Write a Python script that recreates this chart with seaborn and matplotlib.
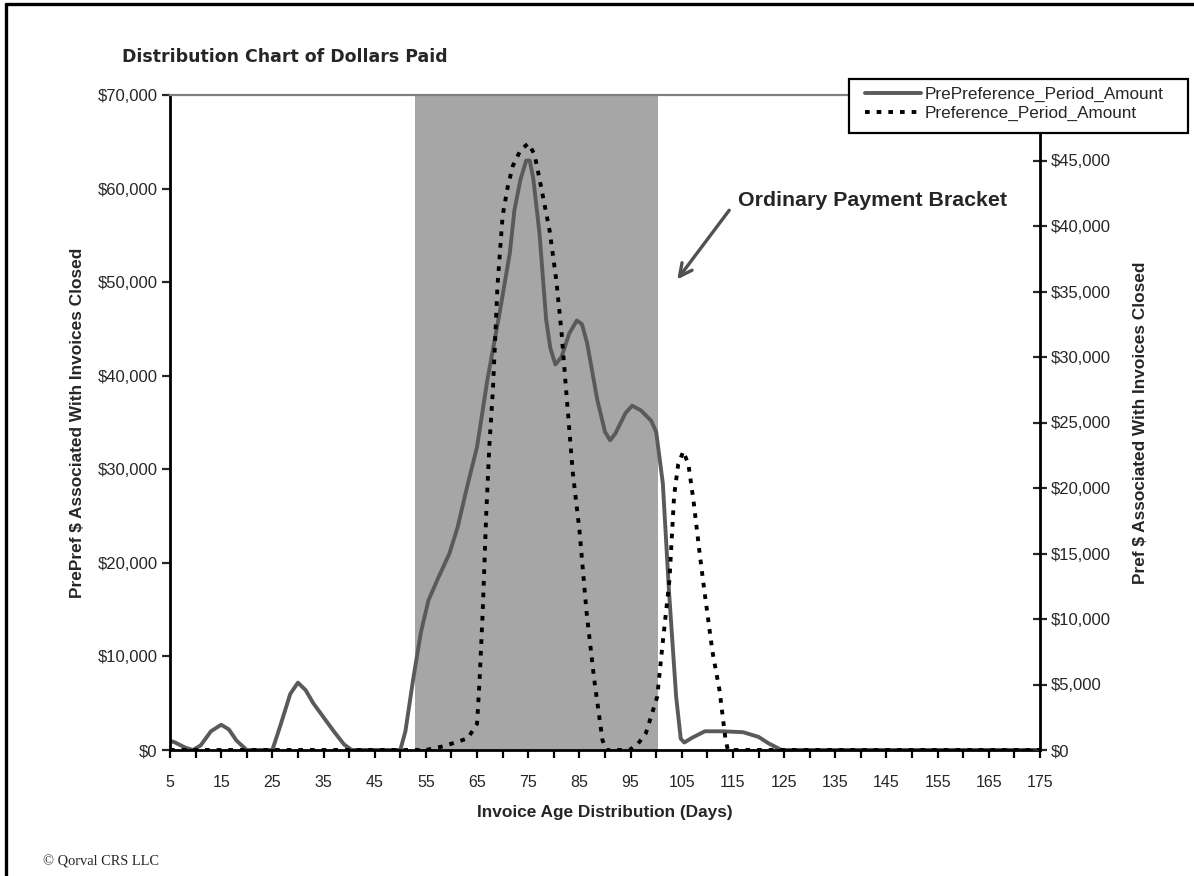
import matplotlib
matplotlib.use("Agg")
import matplotlib.pyplot as plt
from matplotlib.ticker import FuncFormatter, MultipleLocator, FixedLocator
from matplotlib.lines import Line2D
from matplotlib.patches import Rectangle
import seaborn as sns
import pandas as pd

# ---- data -------------------------------------------------------------
# Dollars paid before the preference period, by invoice age (days)
pre_days = [5, 6, 8, 9.5, 11, 13, 15, 16.5, 18, 20, 25, 26.5, 28.5, 30, 31.5,
            33, 35, 37, 39, 40.5, 45, 50, 51, 52.5, 54, 55.5, 57.5, 59.6, 61.2,
            63, 65, 67, 69.4, 71.4, 72.3, 73.5, 74.6, 75.3, 76, 77.2, 78.5,
            79.3, 80.3, 81.5, 83, 84.5, 85.5, 86.5, 88.5, 90, 91, 92, 94, 95.3,
            97, 99, 100, 101.3, 102.5, 103.9, 104.8, 105.5, 107, 109.5, 113,
            117, 120, 122, 124.5, 130, 140, 150, 160, 170, 175]
pre_amount = [1000, 800, 250, 0, 500, 2000, 2700, 2200, 1000, 0, 0, 2500, 6000,
              7200, 6400, 5000, 3500, 2000, 600, 0, 0, 0, 2000, 7500, 12500,
              16000, 18500, 21000, 23800, 28000, 32400, 39500, 46700, 53100,
              57700, 61000, 63000, 63000, 61000, 55200, 46000, 43000, 41200,
              42000, 44500, 45900, 45500, 43500, 37400, 34000, 33100, 33800,
              36000, 36800, 36300, 35200, 34000, 28500, 17000, 5700, 1200, 800,
              1300, 2000, 2000, 1900, 1400, 700, 0, 0, 0, 0, 0, 0, 0]

# Dollars paid during the preference period, by invoice age (days)
pref_days = [5, 20, 40, 55, 58, 61, 63.2, 65, 65.5, 66.1, 66.8, 67.4, 68.1, 69,
             70, 71, 72, 73.5, 75, 76.2, 77.2, 79.2, 80.5, 81.5, 82.4, 83.7, 85,
             86.4, 87.9, 89.5, 90.2, 94.8, 96.5, 98, 100.2, 101.2, 102.6, 103.5,
             104.3, 105.3, 106.3, 107.3, 108.5, 109.4, 111, 112.4, 113.5, 114,
             130, 150, 175]
pref_amount = [0, 0, 0, 0, 250, 600, 900, 2000, 5400, 10500, 18100, 23200,
               27500, 35500, 40800, 43000, 44600, 45800, 46300, 45500, 43600,
               39600, 35800, 31900, 27500, 21200, 16800, 10500, 5360, 770, 0, 0,
               500, 1300, 4060, 7900, 13000, 19400, 21800, 22800, 21800, 19000,
               15000, 12200, 7500, 4500, 950, 0, 0, 0, 0]

bracket = (52.8, 100.4)          # ordinary payment bracket (days)
x_ticks = list(range(5, 176, 10))
left_ticks = list(range(0, 70001, 10000))
right_ticks = list(range(0, 45001, 5000))

series_names = ["PrePreference_Period_Amount", "Preference_Period_Amount"]

pre_df = pd.DataFrame({"days": pre_days, "amount": pre_amount})
pref_df = pd.DataFrame({"days": pref_days, "amount": pref_amount})

# ---- style ------------------------------------------------------------
sns.set_style("white")
plt.rcParams["font.family"] = ["Liberation Sans", "DejaVu Sans"]

W, H = 1194, 876
fig = plt.figure(figsize=(W / 100, H / 100), dpi=100)
left, right, top, bottom = 170, 1040, 95, 750
ax = fig.add_axes([left / W, 1 - bottom / H, (right - left) / W, (bottom - top) / H])
ax2 = ax.twinx()

solid_color = "#5a5a5a"
line_w = 2.8
dots = (0, (1.2, 1.8))
ax.axvspan(*bracket, color="#a6a6a6", lw=0, zorder=0)

sns.lineplot(data=pre_df, x="days", y="amount", ax=ax, color=solid_color,
             lw=line_w, sort=False, legend=False)
sns.lineplot(data=pref_df, x="days", y="amount", ax=ax2, color="black",
             lw=line_w, sort=False, legend=False)
ax2.get_lines()[0].set_linestyle(dots)

money = FuncFormatter(lambda v, p: f"${v:,.0f}")

ax.set_xlim(5, 175)
ax.set_ylim(0, 70000)
ax2.set_ylim(0, 50000)
ax.set_xticks(x_ticks)
ax.xaxis.set_minor_locator(MultipleLocator(5))
ax.yaxis.set_major_locator(FixedLocator(left_ticks))
ax2.yaxis.set_major_locator(FixedLocator(right_ticks))
ax.yaxis.set_major_formatter(money)
ax2.yaxis.set_major_formatter(money)

ax.tick_params(axis="x", which="both", direction="out", length=6, width=1.6,
               labelsize=11.5, pad=12, color="black", bottom=True)
ax.tick_params(axis="y", direction="out", length=6, width=1.6, labelsize=12,
               pad=3, left=True)
ax2.tick_params(axis="y", direction="inout", length=10, width=1.6,
                labelsize=12, pad=3, right=True)

for s in ("left", "bottom"):
    ax.spines[s].set_color("black")
    ax.spines[s].set_linewidth(2)
ax.spines["right"].set_visible(False)
ax.spines["top"].set_color("#808080")
ax.spines["top"].set_linewidth(1.6)
for s in ("left", "bottom", "top"):
    ax2.spines[s].set_visible(False)
ax2.spines["right"].set_color("black")
ax2.spines["right"].set_linewidth(2)

ax.set_xlabel("Invoice Age Distribution (Days)", fontsize=12.4,
              fontweight="bold", labelpad=11)
ax.set_ylabel("PrePref $ Associated With Invoices Closed", fontsize=12.4,
              fontweight="bold", labelpad=9)
ax2.set_ylabel("Pref $ Associated With Invoices Closed", fontsize=12.4,
               fontweight="bold", labelpad=16)

# title and footer
fig.text(122 / W, 1 - 57 / H, "Distribution Chart of Dollars Paid",
         fontsize=12.5, fontweight="bold", family=["DejaVu Sans"],
         ha="left", va="center")
fig.text(43 / W, 1 - 862 / H, "\u00a9 Qorval CRS LLC", fontsize=10.4,
         family=["Liberation Serif", "DejaVu Serif"], ha="left", va="center")

# annotation for the bracket
ax.annotate("", xy=(103.8, 50050), xytext=(114.6, 57920),
            arrowprops=dict(arrowstyle="->,head_length=0.9,head_width=0.45",
                            color="#505050", lw=2.4))
ax.text(115.9, 58700, "Ordinary Payment Bracket", fontsize=15.4,
        fontweight="bold", ha="left", va="center")

# legend: white box with black border, entries placed inside it
fig.add_artist(Rectangle((849 / W, 1 - 133 / H), 339 / W, 54 / H,
                         transform=fig.transFigure, facecolor="white",
                         edgecolor="black", lw=1.6, zorder=4))
handles = [Line2D([], [], color=solid_color, lw=line_w),
           Line2D([], [], color="black", lw=line_w, linestyle=dots)]
leg = fig.legend(handles, series_names, loc="upper left",
                 bbox_to_anchor=(865 / W, 1 - 87 / H), fontsize=12.3,
                 frameon=False, handlelength=3.3, handletextpad=0.2,
                 labelspacing=0.2, borderpad=0, borderaxespad=0)
leg.set_zorder(5)

# page frame (left and top edges)
fig.add_artist(Line2D([5.5 / W, 5.5 / W], [0, 1 - 3.5 / H], color="black", lw=2.4,
                      transform=fig.transFigure))
fig.add_artist(Line2D([5.5 / W, 1], [1 - 3.5 / H, 1 - 3.5 / H], color="black",
                      lw=2.4, transform=fig.transFigure))

fig.savefig("out.png", dpi=100)
